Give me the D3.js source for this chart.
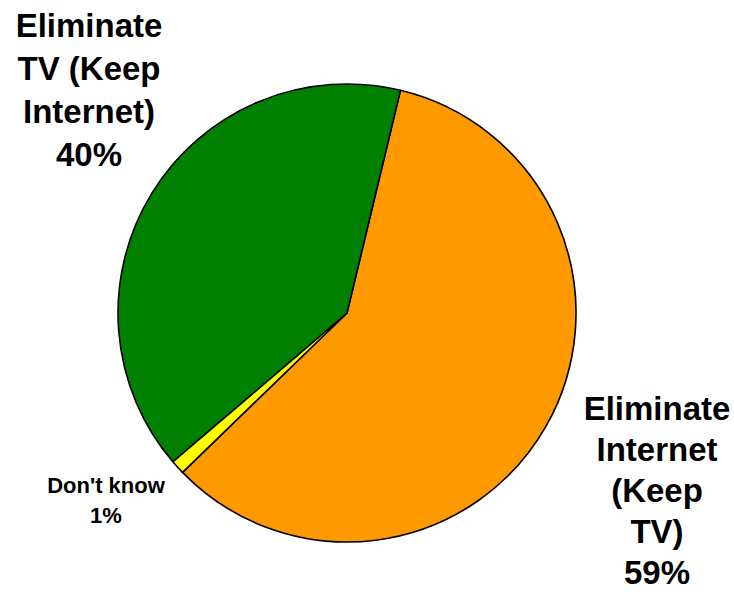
<!DOCTYPE html>
<html><head><meta charset="utf-8">
<script src="https://cdn.jsdelivr.net/npm/d3@7/dist/d3.min.js"></script>
<style>body{margin:0;background:#fff}svg{display:block}</style>
</head><body>
<svg id="c" width="734" height="592"></svg>
<script>
const categories = ["Eliminate Internet (Keep TV)", "Don't know", "Eliminate TV (Keep Internet)"];
const values = [59, 1, 40];
const colors = ["#FF9900", "#FFFF00", "#008000"];
const labelLines = [
  ["Eliminate", "Internet", "(Keep", "TV)", "59%"],
  ["Don't know", "1%"],
  ["Eliminate", "TV (Keep", "Internet)", "40%"]
];

const svg = d3.select("#c");
const cx = 347, cy = 313, r = 229;
const startAngle = 13.5 * Math.PI / 180;
const pie = d3.pie().sort(null).value(d => d)
  .startAngle(startAngle).endAngle(startAngle + 2 * Math.PI);
const arcs = pie(values);
const arc = d3.arc().innerRadius(0).outerRadius(r);
const g = svg.append("g").attr("transform", `translate(${cx},${cy})`);
g.selectAll("path").data(arcs).enter().append("path")
  .attr("d", arc)
  .attr("fill", (d, i) => colors[i])
  .attr("stroke", "#000").attr("stroke-width", 1.6).attr("stroke-linejoin", "round");

const labelPos = [
  {x: 657, y: 420, size: 33, lh: 41},
  {x: 106, y: 493, size: 22, lh: 30},
  {x: 89, y: 37, size: 33, lh: 43}
];
labelLines.forEach((lines, i) => {
  const p = labelPos[i];
  const t = svg.append("text")
    .attr("text-anchor", "middle")
    .attr("font-family", "'Liberation Sans', Arial, sans-serif")
    .attr("font-weight", "bold")
    .attr("font-size", p.size)
    .attr("fill", "#000");
  lines.forEach((l, j) => {
    t.append("tspan").attr("x", p.x).attr("y", p.y + j * p.lh).text(l);
  });
});
</script>
</body></html>
